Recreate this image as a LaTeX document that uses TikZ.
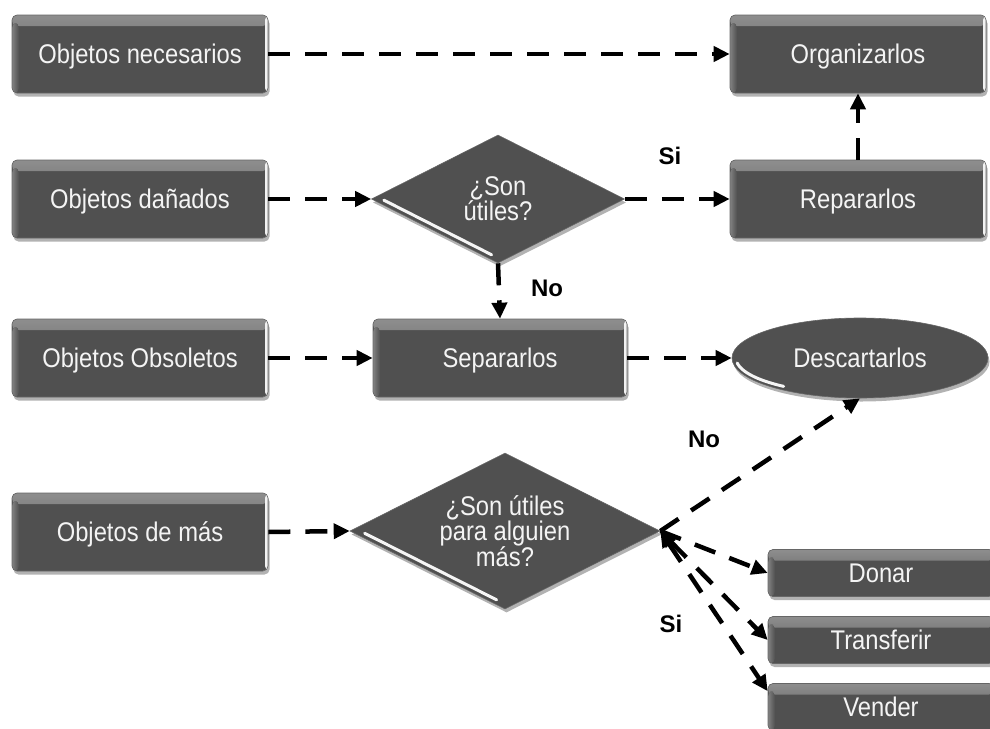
\documentclass[tikz,border=0pt]{standalone}
\usepackage{fontspec}
\setmainfont{Liberation Sans}[FakeStretch=0.88]
\newfontfamily\lblfont{Liberation Sans Bold}
\usetikzlibrary{shapes.geometric,shadows,arrows.meta,calc}
\definecolor{boxgray}{HTML}{505050}
\definecolor{bevel}{HTML}{8E8E8E}
\definecolor{txt}{HTML}{F4F4F4}
\tikzset{
  shade/.style={drop shadow={shadow xshift=1.5pt, shadow yshift=-3.5pt, opacity=0.3, fill=black}},
  box/.style={rectangle, rounded corners=5pt, fill=boxgray, draw=black!60, line width=0.6pt,
    text=txt, font=\fontsize{27}{30}\selectfont, inner sep=0pt, text height=19.5pt, text depth=0pt, shade,
    path picture={
      \fill[top color=bevel, bottom color=boxgray] (path picture bounding box.north west) rectangle ([yshift=-11pt]path picture bounding box.north east);
      \fill[left color=bevel!80!boxgray, right color=boxgray] ([yshift=-8pt]path picture bounding box.north west) rectangle ([xshift=7pt]path picture bounding box.south west);
      \fill[white!90!gray] ([xshift=-3pt]path picture bounding box.north east) rectangle (path picture bounding box.south east);
    }},
  bigbox/.style={box, minimum width=256pt, minimum height=78pt},
  smallbox/.style={box, minimum width=226pt, minimum height=47pt},
  decision/.style={diamond, aspect=2, fill=boxgray, draw=black!60, line width=0.6pt, text=txt,
    font=\fontsize{27}{25}\selectfont, inner sep=0pt, align=center, shade},
  terminal/.style={ellipse, fill=boxgray, draw=black!60, line width=0.6pt, text=txt,
    font=\fontsize{27}{30}\selectfont, inner sep=0pt, text height=19.5pt, text depth=0pt,
    minimum width=256pt, minimum height=80pt, shade},
  hilite/.style={white!92!gray, line width=3pt, line cap=round},
  conn/.style={line width=4.5pt, dash pattern=on 22pt off 15pt, -{Triangle[length=16pt,width=15pt]}},
  both/.style={{Triangle[length=16pt,width=15pt]}-{Triangle[length=16pt,width=15pt]}},
  lbl/.style={font=\lblfont\fontsize{24}{26}\selectfont, text=black, inner sep=0pt}
}
\begin{document}
\begin{tikzpicture}[x=1pt,y=-1pt]
\useasboundingbox (0,0) rectangle (990,728);
\clip (0,0) rectangle (990,728);

% left column
\node[bigbox] (nec) at (140,54) {Objetos necesarios};
\node[bigbox] (dan) at (140,199) {Objetos dañados};
\node[bigbox] (obs) at (140,358) {Objetos Obsoletos};
\node[bigbox] (mas) at (140,532) {Objetos de más};

% right column
\node[bigbox] (org) at (858,54) {Organizarlos};
\node[bigbox] (rep) at (858,199) {Repararlos};
\node[terminal] (des) at (860,358) {Descartarlos};

% middle
\node[decision, minimum width=253pt, minimum height=128pt] (d1) at (498,199) {¿Son\\útiles?};
\node[bigbox, minimum width=254pt] (sep) at (500,358) {Separarlos};
\node[decision, minimum width=310pt, minimum height=156pt] (d2) at (505,531) {¿Son útiles\\para alguien\\más?};

% bottom right boxes
\node[smallbox] (don) at (881,573) {Donar};
\node[smallbox] (tra) at (881,640) {Transferir};
\node[smallbox] (ven) at (881,707) {Vender};

% highlights on diamonds and ellipse
\draw[hilite] ($(d1.west)!0.08!(d1.south)+(2.5,-4)$) -- ($(d1.west)!0.93!(d1.south)+(2.5,-4)$);
\draw[hilite] ($(d2.west)!0.08!(d2.south)+(2.5,-4)$) -- ($(d2.west)!0.93!(d2.south)+(2.5,-4)$);
\draw[hilite] plot[domain=172:128, samples=24] ({860+124*cos(\x)},{358+36*sin(\x)});

% connectors
\draw[conn] (nec.east) -- (org.west);
\draw[conn] (dan.east) -- (d1.west);
\draw[conn] (d1.east) -- (rep.west);
\draw[conn] (rep.north) -- (org.south);
\draw[conn] (d1.south) -- (sep.north);
\draw[conn] (obs.east) -- (sep.west);
\draw[conn] (sep.east) -- (des.west);
\draw[conn] (mas.east) -- (d2.west);
\draw[conn] (d2.east) -- (des.south);
\draw[conn] (d2.east) -- (don.west);
\draw[conn, both] (d2.east) -- (tra.west);
\draw[conn, both] (d2.east) -- ([yshift=-8pt]ven.north west);

% labels
\node[lbl] (si1) at (670,156) {Si};
\node[lbl] (no1) at (547,288) {No};
\node[lbl] (no2) at (704,439) {No};
\node[lbl] (si2) at (671,624) {Si};
\end{tikzpicture}
\end{document}
